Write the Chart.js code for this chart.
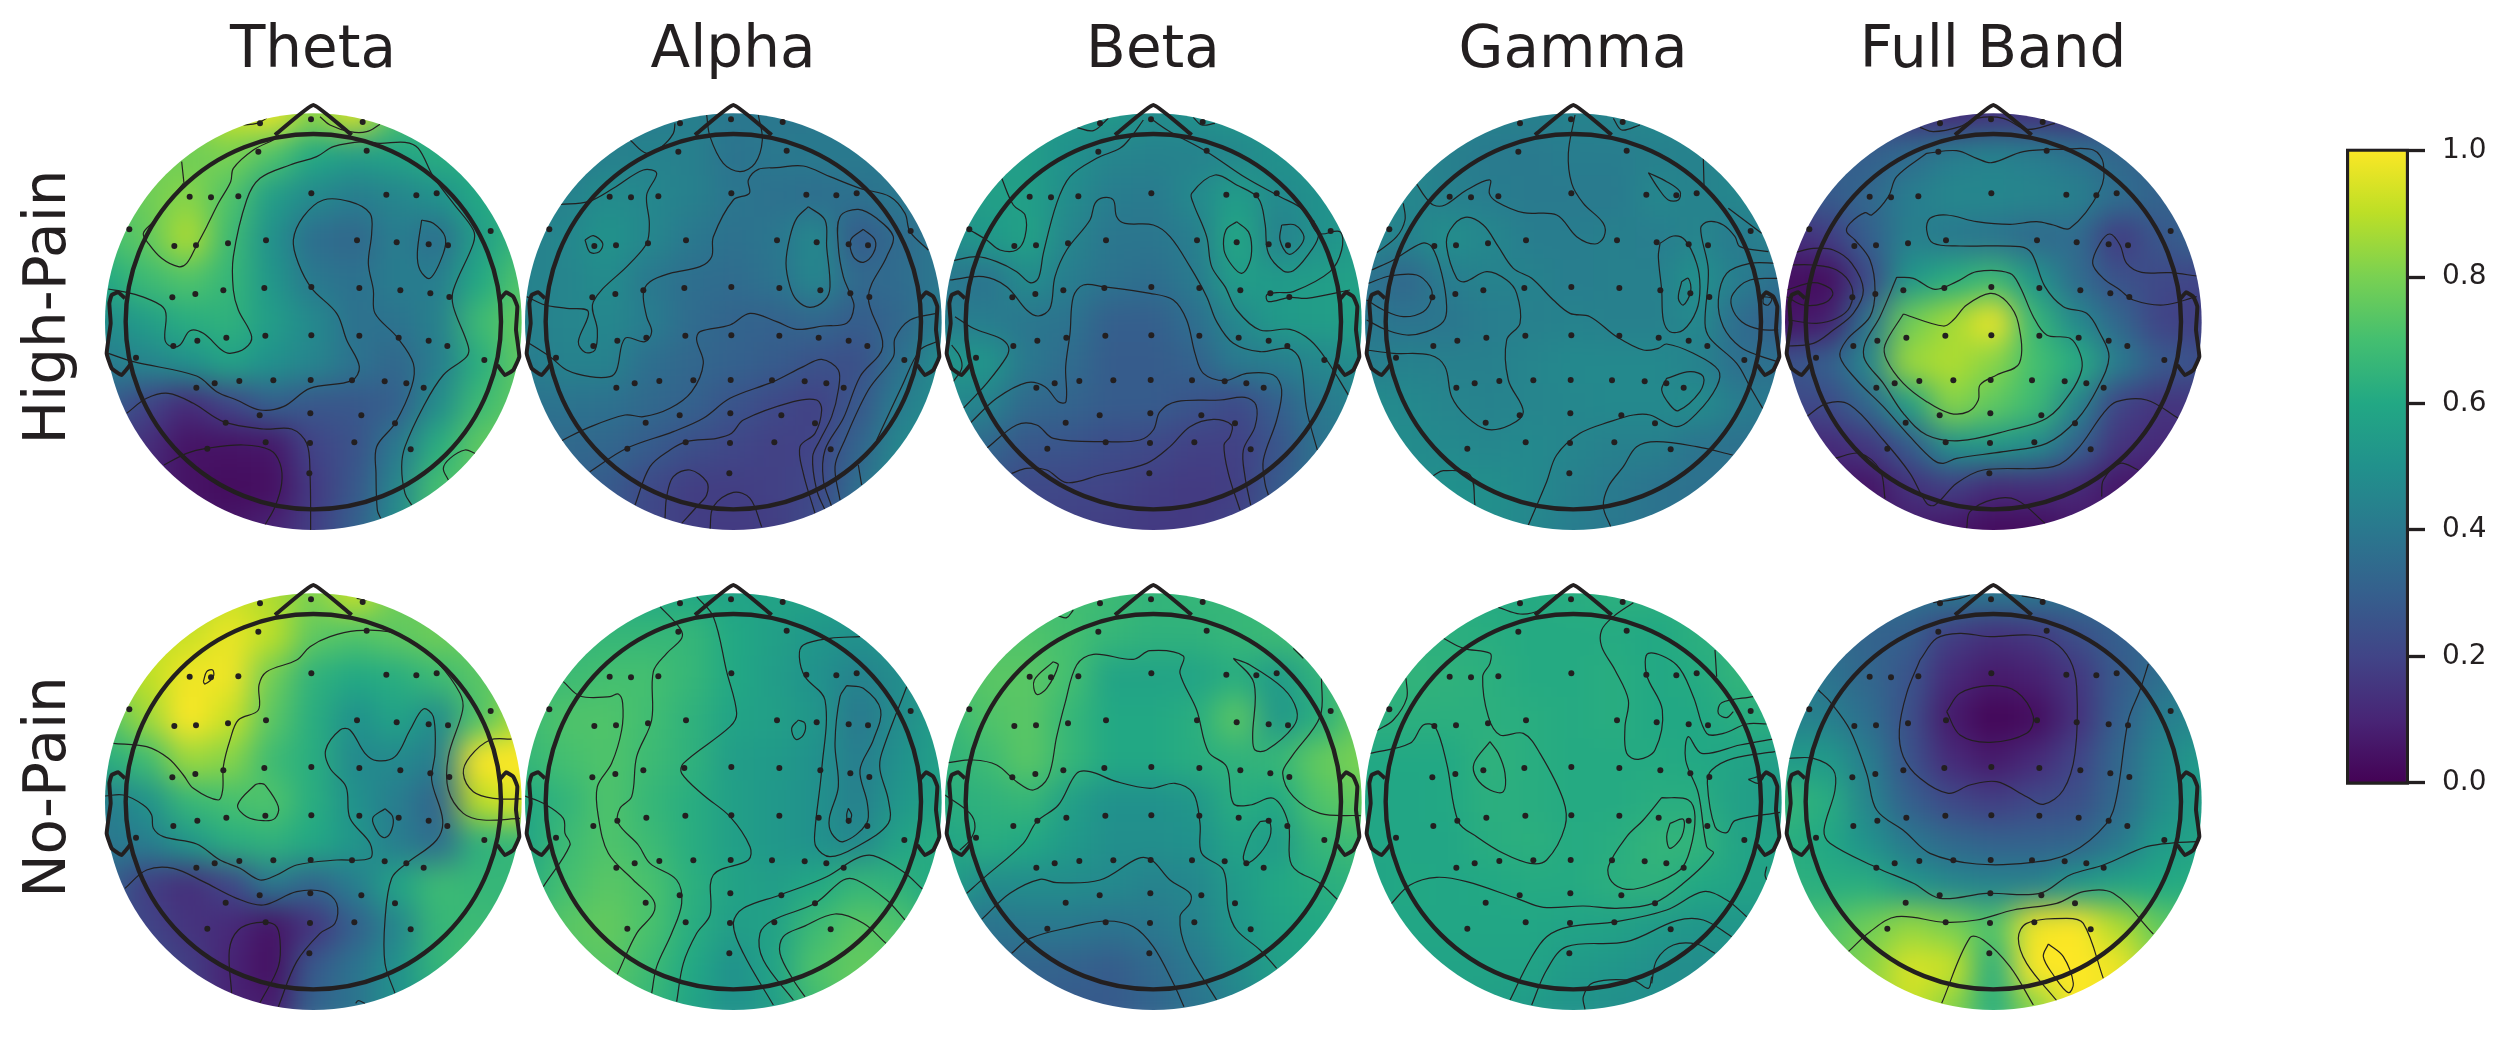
<!DOCTYPE html>
<html>
<head>
<meta charset="utf-8">
<script src="https://cdn.jsdelivr.net/npm/chart.js@4"></script>
<style>
  body { margin: 0; background: #fff; }
  canvas { position: absolute; }
</style>
</head>
<body>
<canvas id="topoChart" width="2510" height="1037" style="left:0;top:0"></canvas>
<canvas id="colorbar" width="170" height="690" style="left:2340px;top:120px"></canvas>
<script>
let bandLabels = ["Theta", "Alpha", "Beta", "Gamma", "Full Band"];
let rowLabels = ["High-Pain", "No-Pain"];
let colorbarTicks = [0, 0.2, 0.4, 0.6, 0.8, 1];

// sensor and line coordinates are in map units, one unit is a third of a pixel
let sensorX = [510,663,818,505,830,299,363,445,664,889,979,1040,118,1202,253,318,414,528,801,920,1016,1074,247,316,400,523,664,808,931,1021,1078,250,322,409,526,664,808,926,1016,1072,138,1183,319,374,448,550,662,786,884,949,1001,407,509,661,814,915,352,527,660,793,962,658];
let sensorY = [100,88,96,185,182,320,322,319,310,314,316,310,418,423,468,466,460,451,451,457,463,466,622,612,601,594,591,594,601,610,621,768,752,743,737,736,737,743,752,768,803,810,893,880,873,871,870,871,874,880,893,998,976,970,976,1000,1076,1057,1059,1057,1078,1150];
let noseLine = [555,135,670,45,785,135];
let leftEar = [105,625,85,607,65,615,58,640,62,700,50,790,65,835,95,855,120,825];
let rightEar = [1228,630,1248,607,1270,620,1282,650,1278,720,1288,800,1270,840,1245,855,1222,825];

// value grids, hundredths of the colour scale, 11 rows by 11 columns across the disk
let thetaHigh = [
  [70,75,80,92,97,82,95,72,65,62,60],
  [75,78,78,80,72,60,55,58,62,62,62],
  [72,78,82,72,55,47,42,45,50,60,65],
  [70,75,88,68,50,36,33,42,36,55,66],
  [60,68,72,66,52,40,37,42,42,60,72],
  [48,55,62,64,55,47,37,38,43,68,76],
  [42,45,50,58,50,45,38,33,42,62,75],
  [30,20,12,20,30,27,27,30,48,68,75],
  [20,13,5,5,6,20,25,40,62,75,80],
  [15,10,5,3,4,17,27,45,70,75,78],
  [12,10,8,6,10,18,30,48,70,75,78],
];
let alphaHigh = [
  [40,40,41,42,43,40,40,40,40,40,40],
  [40,41,43,44,43,38,40,41,41,40,40],
  [42,44,48,46,43,39,37,36,37,40,41],
  [43,46,51,46,40,37,39,47,28,35,40],
  [44,45,48,40,36,35,38,46,34,35,40],
  [43,45,46,42,35,32,31,33,29,33,42],
  [42,44,44,36,33,31,29,25,24,37,48],
  [38,38,37,34,31,26,22,19,27,42,48],
  [33,34,33,29,24,21,19,20,32,46,50],
  [32,31,28,22,18,18,19,21,36,48,50],
  [30,30,27,21,18,17,18,23,38,48,50],
];
let betaHigh = [
  [55,55,55,53,54,48,50,52,54,52,52],
  [53,55,55,50,45,44,44,46,50,52,52],
  [53,56,56,48,42,41,47,55,47,50,52],
  [48,53,57,45,39,39,42,60,43,50,54],
  [40,38,48,42,38,36,41,55,54,55,57],
  [42,42,39,38,30,30,36,46,54,55,57],
  [52,52,40,35,29,29,31,41,42,46,48],
  [47,44,34,32,29,29,26,22,30,40,44],
  [40,33,27,26,23,22,19,19,26,38,42],
  [30,26,22,21,20,18,17,18,28,38,40],
  [27,24,20,19,18,17,17,20,28,36,40],
];
let gammaHigh = [
  [44,44,44,44,43,44,45,47,46,46,46],
  [44,45,43,41,41,42,42,43,44,46,46],
  [47,46,43,42,41,41,41,46,44,46,47],
  [46,44,49,46,42,42,43,42,45,41,45],
  [38,33,42,44,44,42,43,43,50,42,36],
  [40,38,39,42,43,44,43,43,47,35,30],
  [42,44,43,43,45,47,47,47,44,36,37],
  [48,47,45,44,45,46,47,47,48,42,40],
  [48,48,47,46,47,45,43,43,38,37,38],
  [48,48,50,49,47,43,41,38,37,37,38],
  [48,48,50,49,46,42,40,38,37,37,38],
];
let fullHigh = [
  [18,20,22,14,12,14,14,13,22,28,28],
  [30,30,30,35,42,44,42,38,33,30,30],
  [28,28,33,42,46,46,45,43,36,32,30],
  [12,17,30,43,40,38,34,35,17,27,32],
  [4,3,22,52,62,68,52,35,25,22,20],
  [5,8,38,78,86,98,66,47,33,20,18],
  [25,30,45,85,88,82,70,62,42,28,25],
  [22,22,33,55,82,75,68,45,20,15,16],
  [12,12,16,28,50,52,48,32,15,12,12],
  [10,6,5,14,18,12,13,12,6,5,8],
  [10,8,6,8,6,3,3,6,6,8,10],
];
let thetaNone = [
  [78,80,85,92,88,80,92,78,75,72,72],
  [85,90,92,97,90,75,72,75,78,76,75],
  [85,90,98,98,78,64,60,62,68,74,76],
  [72,85,100,92,74,62,50,58,48,72,88],
  [62,68,85,82,68,62,47,47,42,100,100],
  [42,50,66,70,72,62,50,42,32,90,95],
  [40,42,52,62,64,60,52,42,35,64,66],
  [32,18,13,20,40,32,42,58,68,66,66],
  [28,20,15,12,5,15,30,45,66,68,66],
  [28,25,18,10,4,28,38,50,65,72,66],
  [28,28,20,10,8,32,38,50,60,60,60],
];
let alphaNone = [
  [58,60,60,60,60,58,58,58,58,60,60],
  [62,65,66,66,66,60,56,52,50,53,55],
  [66,68,70,70,66,60,55,50,44,48,56],
  [68,72,72,69,64,58,56,52,40,48,56],
  [66,70,72,68,64,55,54,50,42,50,56],
  [60,65,72,66,62,56,53,50,43,52,58],
  [58,68,72,68,62,56,53,50,46,58,62],
  [62,70,74,71,63,58,55,60,66,64,60],
  [66,74,76,71,62,55,57,68,74,72,62],
  [66,72,74,68,60,50,58,72,76,74,66],
  [66,72,72,66,58,50,55,68,76,74,66],
];
let betaNone = [
  [68,68,68,69,68,65,66,66,66,68,68],
  [70,72,72,70,66,64,64,66,68,70,72],
  [70,74,74,70,58,58,58,62,54,64,74],
  [66,72,74,66,60,60,62,74,52,62,76],
  [64,68,74,66,60,60,62,64,66,76,80],
  [62,64,66,56,50,50,52,62,60,72,76],
  [58,62,60,54,49,49,50,58,54,66,68],
  [56,48,48,48,47,44,46,54,60,62,64],
  [42,38,40,40,38,40,44,52,58,60,62],
  [38,33,32,31,29,34,40,48,56,58,60],
  [36,32,30,28,28,32,38,44,52,56,60],
];
let gammaNone = [
  [62,63,62,61,61,62,63,63,63,63,63],
  [63,63,63,62,61,61,61,60,63,64,64],
  [64,65,64,63,61,61,62,60,61,65,66],
  [63,63,63,63,62,61,62,60,60,62,63],
  [60,60,60,64,62,61,61,61,60,58,55],
  [59,59,60,63,62,61,61,62,62,56,54],
  [59,59,59,62,63,61,62,65,65,58,58],
  [58,60,59,60,61,61,63,64,60,58,57],
  [58,59,59,59,59,58,57,54,52,52,53],
  [58,58,58,58,58,54,52,49,48,49,50],
  [58,58,58,56,54,51,49,49,49,50,50],
];
let fullNone = [
  [38,38,36,37,40,40,40,38,36,38,38],
  [36,35,32,30,18,14,16,24,30,33,36],
  [42,38,33,26,12,7,9,16,28,36,42],
  [44,43,36,24,7,1,3,14,30,42,46],
  [54,54,42,25,12,7,12,20,33,46,54],
  [66,62,45,30,22,18,22,24,34,48,56],
  [62,60,50,40,34,31,31,32,40,54,58],
  [64,62,62,52,46,44,44,52,58,60,62],
  [68,72,78,84,80,72,98,100,88,76,70],
  [70,74,82,94,92,62,100,100,98,82,70],
  [74,78,84,92,82,62,82,100,96,84,72],
];

// contour lines, x,y pairs per line
let thetaHighLines = [
  [460,105,500,100,530,85],
  [690,80,720,105,780,125,830,125,870,103],
  [275,215,282,280],
  [550,150,490,180,430,235,422,275,385,340,350,410,318,470,290,520,265,530,215,505,175,460,160,430,190,395,280,280],
  [55,597,110,607,170,625,225,660,225,750,245,770,270,765,300,722,340,730,395,780,420,790,465,775,485,740,445,660,430,600,430,500,470,330,510,265,600,225,680,200,730,170,820,155,870,160,945,157,985,175,1030,260,1090,340,1150,420,1150,460,1090,600,1090,650,1135,770,1130,800,1060,855,1000,950,945,1070,935,1130,945,1210,965,1245],
  [872,1285,862,1260,858,1150,860,1070,915,1000,965,890,970,820,920,740,855,670,850,600,835,520,845,430,840,370,780,335,700,330,640,380,610,450,625,520,665,595,740,670,770,750,808,830,785,872,660,895,580,950,510,960,440,930,380,905,320,858,130,815,55,790],
  [995,390,1030,400,1065,440,1060,490,1020,565,990,540,982,490,995,390],
  [110,970,170,925,235,910,310,940,400,995,520,1017,605,1017,650,1060,660,1150,662,1320],
  [222,1125,290,1090,350,1075,460,1065,540,1080,570,1120,575,1180,555,1250,525,1305],
  [1155,1090,1125,1080,1080,1105,1060,1135,1075,1170],
];
let alphaHighLines = [
  [590,75,600,140,640,220,690,245,735,220,757,150,745,75],
  [495,100,490,130,455,170,410,190,360,150],
  [150,343,235,335,310,295,400,240,440,250,410,315,418,400,410,460,360,520,250,635,262,720,255,780,225,787,205,755,235,665,170,655,105,645,50,620],
  [225,450,250,437,278,460,268,485,240,487,225,450],
  [1255,480,1200,425,1185,370,1140,320,1050,295,960,260,880,228,800,233,745,238,715,270,718,310,670,330,610,440,605,500,570,530,480,550,420,575,400,610,410,680,425,725,405,755,345,745,320,840,300,860,240,860,170,840,120,800,50,755],
  [895,350,945,390,950,470,960,590,945,630,900,652,860,630,840,590,828,520,840,440,860,385,895,350],
  [965,1250,940,1170,945,1080,1000,985,1050,860,1118,770,1075,620,1130,500,1150,440,1100,385,1045,358,990,380,985,470,1000,560,1020,610,1032,650,1010,700,940,708,860,718,800,695,720,670,660,705,570,725,560,750,580,820,545,905,480,955,400,980,345,975,230,1015,155,1052],
  [1060,418,1095,450,1090,490,1060,517,1030,500,1022,450,1060,418],
  [240,1145,350,1075,490,1025,580,985,660,925,790,875,880,830,935,808,985,840,985,900,965,980,930,1050,908,1100,920,1200,945,1260],
  [375,1245,420,1130,480,1080,530,1055,620,1045,665,1030,700,990,850,935,920,930,935,960,915,1030,870,1070,880,1150,915,1270],
  [465,1285,470,1220,490,1160,540,1140,590,1175,590,1215,565,1245,515,1300],
  [600,1320,610,1250,670,1207,720,1225,755,1310],
  [1280,670,1200,690,1155,745,1150,800,1075,900,1000,1060,975,1130,990,1230],
  [1280,755,1230,780,1175,890,1100,1050],
  [1045,1125,1055,1185],
];
let betaHighLines = [
  [440,112,490,122,535,85],
  [790,82,815,105,855,100],
  [70,512,140,500,200,515,260,545,300,578,325,565,340,490,380,340,420,260,500,205,570,175,600,145,640,90],
  [665,88,720,125,830,185,950,265,1050,320,1120,360,1165,430,1230,425,1235,480,1200,545,1090,605,1040,608,1010,615,1015,635,1080,622,1130,625,1260,600],
  [215,265,250,345,285,375,285,440,260,480,210,480,170,450,120,420],
  [1150,390,1165,440,1130,500,1090,542,1060,543,1015,490,1005,400,985,325,920,285,855,255,785,310,790,340,830,440,845,530,885,590,920,660,990,720,1080,718,1140,750,1190,810,1255,915],
  [920,395,955,425,965,470,958,520,935,550,905,525,882,480,888,420,920,395],
  [1055,405,1095,405,1122,440,1105,475,1075,492,1050,450,1055,405],
  [60,570,160,560,230,590,290,660,325,678,360,655,375,560,410,480,480,390,495,340,520,323,550,330,560,380,585,400,670,405,720,440,780,530,830,620,860,695,910,760,990,785,1075,775,1110,810,1130,960,1162,1080],
  [122,998,200,925,290,878,345,890,385,935,408,935,407,830,420,730,430,620,460,585,520,590,660,610,730,630,770,690,795,790,820,850,885,872,950,850,1030,855,1055,900,1040,990,1000,1110,1005,1180,1015,1215],
  [75,680,130,715,210,745,235,770,230,800,170,880,100,955],
  [65,765,90,800,95,835,70,875],
  [170,1075,260,1005,320,1005,370,1045,530,1055,630,1050,670,1020,690,965,740,935,870,930,945,922,978,945,975,1010,940,1080,945,1160,962,1245],
  [245,1150,290,1135,350,1140,410,1178,510,1155,650,1120,720,1070,780,1010,850,988,905,1005,900,1040,882,1065,895,1150,930,1260],
];
let gammaHighLines = [
  [675,75,655,190,665,280,700,340,760,400,762,440,735,462,680,440,620,375,520,368,440,335,418,310,420,270,350,300,285,345,250,345,225,320,200,282],
  [790,85,815,120,870,105],
  [895,248,950,275,990,305,985,330,955,330,925,295,895,248],
  [1060,205,1062,285],
  [160,340,165,390,140,440,80,488],
  [535,1305,590,1175,620,1095,690,1030,780,995,850,975,900,975,980,1010,1040,970,1100,890,1105,840,1030,790,950,762,925,775,880,780,800,740,720,680,660,670,610,630,545,565,490,535,445,470,400,405,345,382,300,420,290,470,320,565,345,575,410,545,470,570,500,610,510,700,470,750,475,870,520,965,480,1005,410,1018,350,980,305,920,285,830,240,795,130,790,50,780],
  [65,540,130,510,215,460,245,470,275,550,290,650,280,695,230,725,170,735,110,720,50,690],
  [55,580,120,558,200,555,240,590,245,625,220,665,160,680,100,660,50,630],
  [930,460,970,438,1005,450,1040,520,1050,590,1040,660,1000,720,960,725,940,690,935,600,925,500,930,460],
  [995,575,1015,565,1022,605,1000,645,985,625,995,575],
  [1135,355,1235,430],
  [1255,485,1170,470,1155,440,1120,405,1075,395,1052,415,1075,540,1065,700,1080,745,1160,820,1200,890,1238,955],
  [1280,520,1200,520,1130,550,1105,630,1120,710,1170,770,1235,800,1285,815],
  [1285,565,1200,570,1150,610,1145,650,1175,695,1230,718,1285,720],
  [1240,620,1265,625,1255,645,1240,640,1240,620],
  [950,865,1020,845,1060,860,1050,905,985,962,960,945,935,900,950,865],
  [1148,1095,1040,1070,920,1055,860,1070,820,1130,775,1190,760,1250,782,1310],
  [250,1157,280,1142,360,1155,375,1245],
];
let fullHighLines = [
  [450,112,490,125,570,110,620,85,700,85,770,118,855,100],
  [75,488,130,475,190,480,245,520,280,600,250,670,190,720,130,760,55,768],
  [50,525,130,525,200,540,245,590,240,650,200,685,140,700,55,690],
  [50,600,130,578,180,595,188,615,160,640,100,645,50,620],
  [470,190,560,182,620,205,665,218,760,185,880,178,970,180,1000,220,990,300,900,415,850,405,800,395,720,403,620,395,530,375,480,385,470,420,490,460,570,468,750,470,785,490,825,590,880,650,950,670,990,730,1017,800,985,890,920,990,830,1060,700,1085,560,1105,520,1120,490,1110,420,1040,340,950,260,870,210,800,230,750,300,680,315,600,300,510,255,450,230,425,240,400,285,368,305,375,355,320,380,260,470,190],
  [380,562,430,565,495,598,560,575,620,545,720,550,750,590,790,680,830,735,900,745,930,790,935,840,900,910,830,985,720,1020,570,1052,470,1035,400,970,340,880,285,810,285,760,330,680,380,562],
  [400,672,520,708,550,690,590,645,660,610,710,635,745,700,748,820,680,855,630,885,625,930,595,965,540,970,470,935,400,880,350,810,345,765,400,672],
  [1280,620,1180,645,1090,630,1050,600,1000,565,968,520,990,460,1020,432,1050,465,1070,520,1115,547,1200,548,1280,558],
  [110,980,170,940,240,945,340,1050,420,1150,470,1240,495,1245,560,1180,640,1140,850,1130,920,1080,1000,970,1040,935,1130,930,1225,985],
  [195,1105,270,1090,330,1140,345,1225],
  [1105,1140,1050,1120,1000,1170,995,1220],
  [590,1315,600,1265,670,1228,740,1230,825,1300],
];
let thetaNoneLines = [
  [340,335,350,305,368,300,370,320,345,342,340,335],
  [800,85,830,90],
  [70,520,170,530,235,565,280,615,310,655,385,690,398,660,400,590,420,510,445,450,505,420,507,345,530,305,620,270,660,230,720,200,800,182,895,185,965,215,1045,280,1110,370,1118,420,1075,560,1075,660,1120,730,1180,750,1290,745],
  [1265,507,1200,510,1140,560,1120,610,1150,665,1210,685,1295,687],
  [510,640,525,645,565,710,555,745,520,752,470,740,443,705,495,645,510,640],
  [45,678,100,675,160,705,185,735,190,775,220,800,320,822,390,870,450,895,510,930,560,915,620,885,740,870,840,865,840,820,780,745,768,650,720,595,707,540,750,480,780,480,825,550,860,572,915,560,960,480,1000,417,1030,440,1035,550,1025,630,1058,750,1040,810,950,880,905,925,885,1050,885,1180,915,1270],
  [885,716,908,740,905,780,885,803,865,790,848,745,885,716],
  [105,955,170,900,250,895,340,935,440,985,520,1005,620,965,700,965,740,1000,735,1060,690,1090,620,1175,565,1310],
  [425,1270,418,1140,445,1080,500,1058,555,1065,570,1110,565,1190,510,1298],
  [797,1300,805,1292,825,1300],
];
let alphaNoneLines = [
  [450,110,510,175,515,205,470,250,430,305,425,450,380,560,365,680,330,715,325,760,385,825,420,880,500,930,515,1000,485,1090,440,1190,425,1270],
  [160,335,210,378,300,380,325,372,338,400,335,480,305,580,262,650,265,740,295,850,370,930,430,990,430,1030,380,1090,322,1213],
  [45,678,100,700,160,745,165,790,180,825,100,950],
  [560,80,610,140,650,305,680,430,660,470,520,580,515,610,580,675,660,740,720,830,715,870,610,915,600,1035,560,1090,520,1180,500,1295],
  [1050,200,960,205,880,225,868,260,885,320,945,390,935,600,915,780,918,830,960,860,1040,830,1135,760,1135,690,1110,600,1115,550,1190,350],
  [1010,347,1060,355,1112,420,1090,510,1050,600,1072,700,1070,760,1000,815,965,790,958,745,985,650,975,520,990,380,1010,347],
  [865,450,885,460,880,495,857,508,845,475,865,450],
  [1015,715,1025,735,1015,760,1010,735,1015,715],
  [1237,957,1180,905,1090,857,1040,865,950,920,810,975,700,1015,670,1060,700,1150,790,1305],
  [1185,1050,1130,990,1040,930,1000,930,915,1000,790,1050,750,1090,760,1170,850,1290],
  [1128,1120,1060,1060,975,1032,880,1070,820,1100,810,1150,850,1230,885,1280],
];
let betaNoneLines = [
  [385,138,410,143,430,120],
  [1090,235,1120,265],
  [370,275,385,285,350,355,320,373,313,330,370,275],
  [1175,325,1170,440,1085,560,1058,610,1090,680,1170,730,1292,737],
  [910,265,960,285,1060,355,1100,420,1090,470,1010,540,975,540,968,500,972,340,910,265],
  [55,578,130,570,200,585,260,635,310,660,355,620,380,500,405,400,440,285,490,253,610,268,660,242,760,258,750,310,800,420,835,545,890,590,910,700,960,705,1030,685,1075,760,1085,885,1170,940,1222,988],
  [45,675,120,730,135,770,120,810,90,840],
  [990,755,1018,755,1020,800,990,850,950,880,940,860,965,790,990,755],
  [110,970,160,925,280,820,320,755,385,705,440,610,480,605,560,635,660,655,735,640,790,670,810,760,815,850,880,900,895,1020,920,1080,990,1140,1040,1195],
  [155,1048,240,970,330,928,380,938,510,930,625,865,665,870,720,930,780,970,780,1000,750,1040,770,1140,860,1290],
  [245,1150,300,1105,430,1070,530,1053,610,1070,670,1130,730,1240,762,1310],
];
let gammaNoneLines = [
  [445,112,510,132,570,120,620,75],
  [850,98,790,140,755,180,755,230,795,300,835,390,825,470,830,550,865,568,915,540,937,420,890,315,895,250,980,285,1030,380,1070,490,1120,490,1190,462,1250,462],
  [1095,240,1100,320],
  [1210,380,1115,398,1105,430,1130,443,1150,425],
  [280,205,340,235,420,250,420,280,398,320,415,440,450,495,520,490,570,550,640,690,645,770,590,870,540,880,460,850,380,800,325,755,290,580,255,470,220,465,180,520,60,550],
  [168,325,170,385,130,450,80,482],
  [420,515,445,550,465,610,460,665,420,660,380,625,372,580,420,515],
  [1280,505,1170,525,1055,550,1015,500,1007,570,1045,670,1070,830,1090,850,1000,940,910,1000,800,1015,700,1008,580,1012,500,985,350,935,260,922,180,945,122,1003],
  [935,683,1015,690,1035,740,1020,840,990,900,900,945,830,958,785,935,775,890,830,800,880,750,935,683],
  [960,760,1000,748,995,800,960,835,950,800,960,760],
  [1275,545,1150,565,1085,600,1072,640,1095,770,1130,788,1155,752,1290,727],
  [1195,628,1240,618,1225,640,1195,628],
  [480,1290,540,1170,590,1100,660,1070,800,1055,950,1020,1060,965,1130,990,1190,1040],
  [545,1305,590,1200,650,1130,830,1115,980,1052,1060,1050,1145,1100],
  [905,1240,920,1170,970,1125,1040,1122,1095,1150],
  [705,1318,700,1280,730,1238,850,1232,895,1255,905,1220],
  [1250,890,1245,915,1250,930],
];
let fullNoneLines = [
  [490,98,570,85,600,75],
  [755,78,820,88],
  [450,270,500,205,570,190,660,200,780,195,850,215,900,270,920,350,915,550,880,660,820,703,770,680,680,635,600,645,535,670,450,625,400,560,388,480,410,370,450,270],
  [530,425,570,370,660,347,740,365,790,440,770,490,660,517,570,495,530,425],
  [145,360,180,395,240,480,290,610,320,720,405,785,480,850,620,882,780,878,900,850,1010,760,1040,680,1075,450,1110,360,1135,282],
  [55,565,130,565,190,600,195,660,162,780,180,820,320,893,430,940,510,985,650,970,810,970,900,915,1000,885,1130,830,1220,818,1285,815],
  [235,1145,300,1085,380,1040,525,1057,620,1050,730,1020,860,1000,940,965,1030,970,1150,1092],
  [515,1300,600,1103,640,1110,720,1190,790,1305],
  [1000,1225,940,1060,890,1045,770,1060,745,1105,770,1180,860,1292],
  [835,1122,880,1160,910,1240,895,1268,850,1215,820,1160,835,1122],
];

let topoMaps = [
  { row: 0, col: 0, grid: thetaHigh, lines: thetaHighLines },
  { row: 0, col: 1, grid: alphaHigh, lines: alphaHighLines },
  { row: 0, col: 2, grid: betaHigh, lines: betaHighLines },
  { row: 0, col: 3, grid: gammaHigh, lines: gammaHighLines },
  { row: 0, col: 4, grid: fullHigh, lines: fullHighLines },
  { row: 1, col: 0, grid: thetaNone, lines: thetaNoneLines },
  { row: 1, col: 1, grid: alphaNone, lines: alphaNoneLines },
  { row: 1, col: 2, grid: betaNone, lines: betaNoneLines },
  { row: 1, col: 3, grid: gammaNone, lines: gammaNoneLines },
  { row: 1, col: 4, grid: fullNone, lines: fullNoneLines },
];

const viridis = ["#440154","#482475","#414487","#355f8d","#2a788e","#21918c","#22a884","#44bf70","#7ad151","#bddf26","#fde725"];
const inkColor = "#231f20";
const fontFamily = "'DejaVu Sans'";
const mapLeft = (m) => 90 + 420 * m.col;
const mapTop = (m) => 90 + 480 * m.row;
const unit = 1 / 3;
const diskCenter = [670, 695];
const diskRadius = 625;
const headRadius = 563;
const cellStep = 125;

function hexToRgb(hex) {
  return [1, 3, 5].map((i) => parseInt(hex.slice(i, i + 2), 16));
}

function valueColor(v) {
  let pos = Math.min(Math.max(v, 0), 1) * 10;
  let i = Math.min(Math.floor(pos), 9);
  let a = hexToRgb(viridis[i]);
  let b = hexToRgb(viridis[i + 1]);
  let t = pos - i;
  return "rgb(" + a.map((c, k) => Math.round(c + (b[k] - c) * t)).join(",") + ")";
}

function toPoints(m, flat) {
  let pts = [];
  for (let i = 0; i < flat.length; i += 2) {
    pts.push({ x: mapLeft(m) + flat[i] * unit, y: mapTop(m) + flat[i + 1] * unit });
  }
  return pts;
}

// heat cells, grid edge values repeat a little past the disk so the blur has no white rim
function heatDataset(m, index) {
  let pts = [];
  let colors = [];
  for (let r = -2; r <= 12; r++) {
    for (let c = -2; c <= 12; c++) {
      let v = m.grid[Math.min(Math.max(r, 0), 10)][Math.min(Math.max(c, 0), 10)];
      pts.push({ x: mapLeft(m) + (45 + c * cellStep) * unit, y: mapTop(m) + (70 + r * cellStep) * unit });
      colors.push(valueColor(v / 100));
    }
  }
  return {
    kind: "heat", mapIndex: index, order: 3, data: pts, showLine: false, clip: false,
    pointStyle: "rect", pointRadius: 30, pointBorderWidth: 0, pointBackgroundColor: colors,
  };
}

let datasets = [];
topoMaps.forEach((m, index) => {
  datasets.push(heatDataset(m, index));
  m.lines.forEach((line) => {
    datasets.push({
      kind: "contour", mapIndex: index, order: 2, data: toPoints(m, line), showLine: true,
      tension: 0.35, borderColor: inkColor, borderWidth: 1.2, pointRadius: 0,
    });
  });
  let sensorFlat = [];
  sensorX.forEach((x, i) => sensorFlat.push(x, sensorY[i]));
  datasets.push({
    order: 1, data: toPoints(m, sensorFlat), showLine: false,
    pointRadius: 3, pointBorderWidth: 0, pointBackgroundColor: inkColor,
  });
  [noseLine, leftEar, rightEar].forEach((line) => {
    datasets.push({
      order: 0, data: toPoints(m, line), showLine: true, tension: 0.1,
      borderColor: inkColor, borderWidth: 4, pointRadius: 0, borderJoinStyle: "round",
    });
  });
  datasets.push({
    order: 0, data: toPoints(m, diskCenter), showLine: false, pointStyle: "circle",
    pointRadius: headRadius * unit, pointBorderWidth: 4.4, pointBorderColor: inkColor,
    pointBackgroundColor: "transparent",
  });
});

function diskPath(ctx, chart, m) {
  let cx = chart.scales.x.getPixelForValue(mapLeft(m) + diskCenter[0] * unit);
  let cy = chart.scales.y.getPixelForValue(mapTop(m) + diskCenter[1] * unit);
  ctx.beginPath();
  ctx.arc(cx, cy, diskRadius * unit, 0, Math.PI * 2);
  ctx.clip();
}

const topoPlugin = {
  id: "topoPlugin",
  beforeDatasetsDraw(chart) {
    let buffer = document.createElement("canvas");
    buffer.width = chart.width;
    buffer.height = chart.height;
    chart.$heatBuffer = buffer;
    chart.$heatDone = 0;
  },
  beforeDatasetDraw(chart, args) {
    let ds = chart.data.datasets[args.index];
    if (ds.kind === "contour") {
      chart.ctx.save();
      diskPath(chart.ctx, chart, topoMaps[ds.mapIndex]);
    }
  },
  afterDatasetDraw(chart, args) {
    let ds = chart.data.datasets[args.index];
    if (ds.kind === "contour") {
      chart.ctx.restore();
    }
    if (ds.kind === "heat") {
      let bctx = chart.$heatBuffer.getContext("2d");
      bctx.save();
      diskPath(bctx, chart, topoMaps[ds.mapIndex]);
      bctx.filter = "blur(15px)";
      bctx.drawImage(chart.canvas, 0, 0);
      bctx.restore();
      chart.ctx.clearRect(0, 0, chart.width, chart.height);
      chart.$heatDone++;
      if (chart.$heatDone === topoMaps.length) {
        chart.ctx.drawImage(chart.$heatBuffer, 0, 0);
      }
    }
  },
  afterDraw(chart) {
    let ctx = chart.ctx;
    ctx.save();
    ctx.fillStyle = inkColor;
    ctx.font = "58px " + fontFamily;
    ctx.textAlign = "center";
    ctx.textBaseline = "alphabetic";
    bandLabels.forEach((label, col) => {
      ctx.fillText(label, 313 + 420 * col, 67);
    });
    rowLabels.forEach((label, row) => {
      ctx.save();
      ctx.translate(65, 307 + 480 * row);
      ctx.rotate(-Math.PI / 2);
      ctx.fillText(label, 0, 0);
      ctx.restore();
    });
    ctx.restore();
  },
};

new Chart(document.querySelector("#topoChart"), {
  type: "scatter",
  data: { datasets: datasets },
  plugins: [topoPlugin],
  options: {
    responsive: false,
    animation: false,
    events: [],
    layout: { padding: 0, autoPadding: false },
    scales: {
      x: { type: "linear", display: false, min: 0, max: 2510 },
      y: { type: "linear", display: false, min: 0, max: 1037, reverse: true },
    },
    plugins: { legend: { display: false }, tooltip: { enabled: false } },
  },
});

new Chart(document.querySelector("#colorbar"), {
  type: "bar",
  data: {
    labels: [""],
    datasets: [
      {
        data: [[-0.00316, 1.00316]],
        barPercentage: 1,
        categoryPercentage: 1,
        borderColor: inkColor,
        borderWidth: 3.5,
        borderSkipped: false,
        backgroundColor: (context) => {
          let area = context.chart.chartArea;
          if (!area) return viridis[0];
          let gradient = context.chart.ctx.createLinearGradient(0, area.bottom, 0, area.top);
          viridis.forEach((color, i) => gradient.addColorStop(i / 10, color));
          return gradient;
        },
      },
    ],
  },
  options: {
    responsive: false,
    animation: false,
    events: [],
    layout: { padding: { left: 6, top: 28.6, bottom: 25.3, right: 0 }, autoPadding: false },
    scales: {
      x: { display: false },
      y: {
        position: "right",
        min: -0.00316,
        max: 1.00316,
        afterBuildTicks: (scale) => {
          scale.ticks = colorbarTicks.map((v) => ({ value: v }));
        },
        afterFit: (scale) => {
          scale.width = 101;
          scale.paddingTop = 0;
          scale.paddingBottom = 0;
        },
        grid: { drawOnChartArea: false, tickLength: 16, tickWidth: 3.3, tickColor: inkColor },
        border: { display: false },
        ticks: {
          padding: 17,
          color: inkColor,
          font: { size: 28, family: "DejaVu Sans" },
          callback: (value) => value.toFixed(1),
        },
      },
    },
    plugins: { legend: { display: false }, tooltip: { enabled: false } },
  },
});
</script>
</body>
</html>
